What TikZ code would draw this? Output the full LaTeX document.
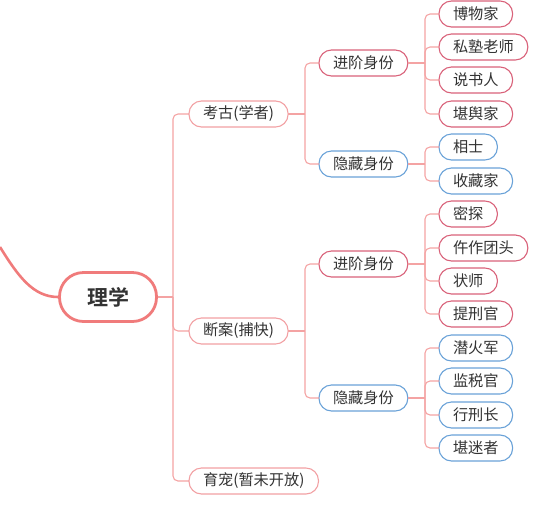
\documentclass[tikz,border=0pt]{standalone}
\usepackage{fontspec}
\setmainfont{Noto Sans CJK SC}
\newfontfamily\cjkbold{Noto Sans CJK SC Bold}
\definecolor{conn}{HTML}{F4A3A3}
\definecolor{rootc}{HTML}{F07B7B}
\definecolor{lvone}{HTML}{F2A0A3}
\definecolor{redc}{HTML}{D9627A}
\definecolor{bluec}{HTML}{6AA2D8}
\definecolor{txt}{HTML}{333333}
\tikzset{
  base/.style={rectangle, rounded corners=12.5pt, minimum height=26pt, inner xsep=14pt, inner ysep=0pt,
    outer sep=0pt, fill=white, text=txt, anchor=west, font=\fontsize{15.2}{18}\selectfont},
  lone/.style={base, draw=lvone, line width=1.1pt},
  redbox/.style={base, draw=redc, line width=1.1pt},
  bluebox/.style={base, draw=bluec, line width=1.1pt},
  rootbox/.style={rectangle, rounded corners=24pt, minimum height=49pt, minimum width=97pt, draw=rootc,
    line width=2.8pt, fill=white, text=txt, font=\cjkbold\fontsize{21}{25}\selectfont},
  link/.style={draw=conn, line width=1.1pt, rounded corners=5pt},
}
\begin{document}
\begin{tikzpicture}[x=1pt,y=-1pt]
\useasboundingbox (0,0) rectangle (538,507);
\coordinate (start) at (0,247);
\node[rootbox] (root) at (108,297) {理学};
\draw[draw=rootc, line width=2.6pt] (start) .. controls (18,276) and (33,297) .. (root.west);
% level 1
\node[lone] (kg) at (189,114) {考古(学者)};
\node[lone] (da) at (189,331) {断案(捕快)};
\node[lone] (yc) at (189,481) {育宠(暂未开放)};
% level 2
\node[redbox] (kgj) at (319,63) {进阶身份};
\node[bluebox] (kgy) at (319,164) {隐藏身份};
\node[redbox] (daj) at (319,264) {进阶身份};
\node[bluebox] (day) at (319,398) {隐藏身份};
% leaves
\node[redbox] (l1) at (439,14) {博物家};
\node[redbox] (l2) at (439,47) {私塾老师};
\node[redbox] (l3) at (439,80) {说书人};
\node[redbox] (l4) at (439,114) {堪舆家};
\node[bluebox] (l5) at (439,147) {相士};
\node[bluebox] (l6) at (439,181) {收藏家};
\node[redbox] (m1) at (439,214) {密探};
\node[redbox] (m2) at (439,248) {仵作团头};
\node[redbox] (m3) at (439,281) {状师};
\node[redbox] (m4) at (439,314) {提刑官};
\node[bluebox] (m5) at (439,348) {潜火军};
\node[bluebox] (m6) at (439,381) {监税官};
\node[bluebox] (m7) at (439,415) {行刑长};
\node[bluebox] (m8) at (439,448) {堪迷者};
% trunks
\coordinate (t0) at (173,297);
\coordinate (t1) at (305,114);
\coordinate (t2) at (305,331);
\coordinate (t3) at (425,63);
\coordinate (t4) at (425,164);
\coordinate (t5) at (425,264);
\coordinate (t6) at (425,398);
\draw[link] (root.east) -- (t0);
\foreach \c in {kg,da,yc} \draw[link] (t0) |- (\c.west);
\draw[link] (kg.east) -- (t1);
\foreach \c in {kgj,kgy} \draw[link] (t1) |- (\c.west);
\draw[link] (da.east) -- (t2);
\foreach \c in {daj,day} \draw[link] (t2) |- (\c.west);
\draw[link] (kgj.east) -- (t3);
\foreach \c in {l1,l2,l3,l4} \draw[link] (t3) |- (\c.west);
\draw[link] (kgy.east) -- (t4);
\foreach \c in {l5,l6} \draw[link] (t4) |- (\c.west);
\draw[link] (daj.east) -- (t5);
\foreach \c in {m1,m2,m3,m4} \draw[link] (t5) |- (\c.west);
\draw[link] (day.east) -- (t6);
\foreach \c in {m5,m6,m7,m8} \draw[link] (t6) |- (\c.west);
\end{tikzpicture}
\end{document}
